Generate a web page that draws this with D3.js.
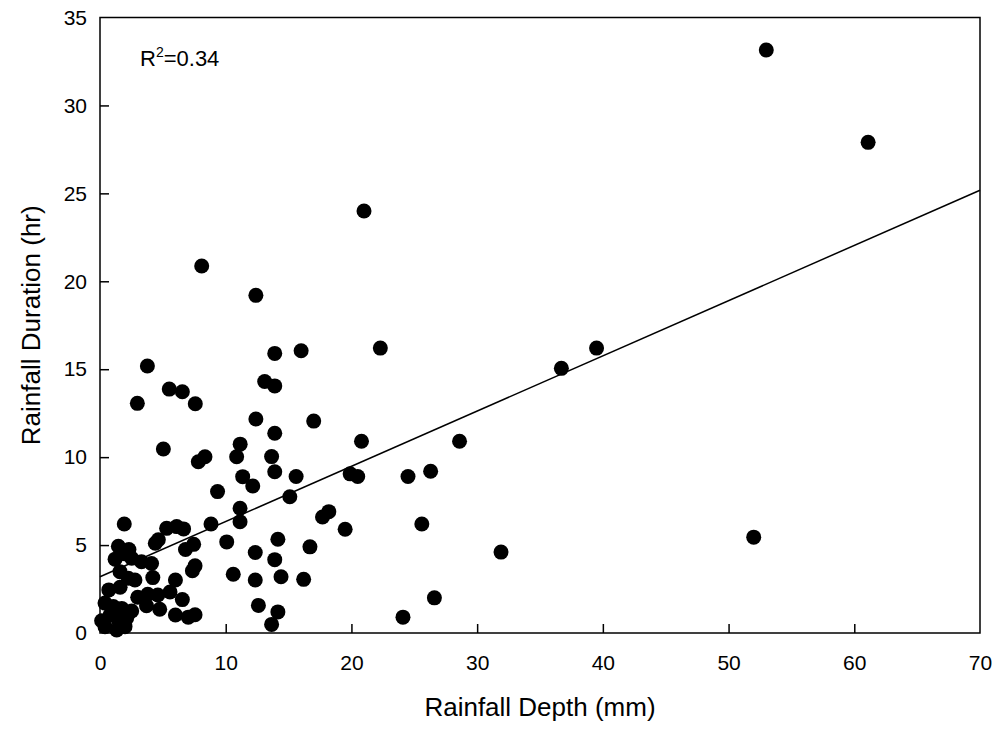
<!DOCTYPE html>
<html>
<head>
<meta charset="utf-8">
<script src="https://cdn.jsdelivr.net/npm/d3@7"></script>
<style>
  html, body { margin: 0; padding: 0; background: #fff; }
  svg { display: block; font-family: "Liberation Sans", Arial, sans-serif; }
</style>
</head>
<body>
<svg id="chart" width="1004" height="736"></svg>
<script>
// Rainfall depth (mm)
const depth = [
  53.0, 61.1, 52.0, 39.5, 36.7, 31.9, 28.6, 26.6, 26.3, 25.6,
  24.5, 24.1, 22.3, 21.0, 20.8, 20.5, 19.9, 19.5, 18.2, 17.7,
  17.0, 16.7, 16.2, 16.0, 15.6, 15.1, 14.4, 14.15, 14.15, 13.9,
  13.9, 13.9, 13.9, 13.65, 13.9, 13.65, 13.1, 12.4, 12.4, 12.35,
  12.35, 12.6, 12.15, 11.35, 11.15, 10.87, 11.14, 11.14, 10.6, 10.08,
  9.35, 8.83, 8.35, 7.82, 8.09, 7.58, 7.56, 7.35, 7.56, 7.45,
  7.02, 6.8, 6.55, 6.65, 6.1, 5.3, 6.55, 6.0, 6.0, 5.51,
  5.04, 4.64, 4.4, 4.2, 4.75, 4.6, 3.77, 4.1, 3.3, 3.8,
  3.7, 2.97, 3.0, 5.57, 2.52, 2.3, 2.0, 1.93, 1.46, 1.2,
  1.59, 2.25, 2.78, 0.7, 1.6, 0.4, 1.06, 1.73, 2.52, 0.13,
  0.8, 1.46, 2.12, 0.4, 1.33, 1.99
];
// Rainfall duration (hr)
const duration = [
  33.15, 27.9, 5.45, 16.2, 15.05, 4.6, 10.9, 2.0, 9.2, 6.2,
  8.9, 0.9, 16.2, 24.0, 10.9, 8.9, 9.05, 5.9, 6.9, 6.6,
  12.05, 4.9, 3.05, 16.05, 8.9, 7.75, 3.2, 5.33, 1.2, 15.9,
  14.05, 11.36, 9.17, 10.03, 4.17, 0.49, 14.3, 19.2, 12.17, 4.58,
  3.01, 1.57, 8.36, 8.89, 10.74, 10.02, 7.09, 6.33, 3.34, 5.18,
  8.04, 6.2, 10.02, 9.74, 20.87, 13.04, 3.82, 3.54, 1.04, 5.04,
  0.9, 4.75, 13.72, 5.92, 6.05, 5.95, 1.9, 3.01, 1.02, 13.87,
  10.46, 5.3, 5.1, 3.15, 1.35, 2.16, 15.18, 3.95, 4.05, 2.2,
  1.55, 13.06, 2.03, 2.33, 4.25, 4.75, 4.5, 6.2, 4.93, 4.2,
  3.49, 3.11, 3.01, 2.45, 2.6, 1.7, 1.5, 1.4, 1.25, 0.7,
  1.02, 0.74, 0.84, 0.36, 0.17, 0.36
];
// Linear fit: [intercept, slope]
const fitLine = [3.2, 0.314];
const xTicks = [0, 10, 20, 30, 40, 50, 60, 70];
const yTicks = [0, 5, 10, 15, 20, 25, 30, 35];
const rSquaredLabel = "0.34";
const xTitle = "Rainfall Depth (mm)";
const yTitle = "Rainfall Duration (hr)";

const svg = d3.select("#chart");
const pLeft = 100, pRight = 980, pTop = 17.5, pBottom = 633;

const x = d3.scaleLinear().domain([0, 70]).range([pLeft, pRight]);
const y = d3.scaleLinear().domain([0, 35]).range([pBottom, pTop]);

// frame
svg.append("rect")
  .attr("x", pLeft).attr("y", pTop)
  .attr("width", pRight - pLeft).attr("height", pBottom - pTop)
  .attr("fill", "none").attr("stroke", "#000").attr("stroke-width", 1.5);

// x axis (ticks inward)
const xAxis = svg.append("g")
  .attr("transform", `translate(0,${pBottom})`)
  .call(d3.axisBottom(x).tickValues(xTicks).tickSizeInner(-9).tickSizeOuter(0).tickPadding(22));
xAxis.select(".domain").remove();
xAxis.selectAll(".tick line").attr("stroke", "#000").attr("stroke-width", 1.5);
xAxis.selectAll(".tick line").filter(d => d === 0 || d === 70).remove();
xAxis.selectAll(".tick text")
  .attr("font-size", 21).attr("fill", "#000")
  .attr("font-family", "Liberation Sans, Arial, sans-serif");

// y axis (ticks inward)
const yAxis = svg.append("g")
  .attr("transform", `translate(${pLeft},0)`)
  .call(d3.axisLeft(y).tickValues(yTicks).tickSizeInner(-9).tickSizeOuter(0).tickPadding(13));
yAxis.select(".domain").remove();
yAxis.selectAll(".tick line").attr("stroke", "#000").attr("stroke-width", 1.5);
yAxis.selectAll(".tick line").filter(d => d === 0 || d === 35).remove();
yAxis.selectAll(".tick text")
  .attr("font-size", 21).attr("fill", "#000")
  .attr("font-family", "Liberation Sans, Arial, sans-serif");

// regression line
const fx = x.domain();
svg.append("line")
  .attr("x1", x(fx[0])).attr("y1", y(fitLine[0] + fitLine[1] * fx[0]))
  .attr("x2", x(fx[1])).attr("y2", y(fitLine[0] + fitLine[1] * fx[1]))
  .attr("stroke", "#000").attr("stroke-width", 1.5);

// points
const pts = depth.map((d, i) => ({ d, h: duration[i] }));
svg.append("g").selectAll("circle").data(pts).join("circle")
  .attr("cx", p => x(p.d)).attr("cy", p => y(p.h))
  .attr("r", 7.5).attr("fill", "#000");

// R² label
const rt = svg.append("text")
  .attr("x", 140).attr("y", 66)
  .attr("font-size", 22).attr("fill", "#000");
rt.append("tspan").text("R");
rt.append("tspan").attr("font-size", 14).attr("dy", -9).text("2");
rt.append("tspan").attr("dy", 9).text("=" + rSquaredLabel);

// axis titles
svg.append("text")
  .attr("x", (pLeft + pRight) / 2).attr("y", 716)
  .attr("text-anchor", "middle").attr("font-size", 26).attr("fill", "#000")
  .text(xTitle);
svg.append("text")
  .attr("transform", `translate(40,${(pTop + pBottom) / 2}) rotate(-90)`)
  .attr("text-anchor", "middle").attr("font-size", 26).attr("fill", "#000")
  .text(yTitle);
</script>
</body>
</html>
